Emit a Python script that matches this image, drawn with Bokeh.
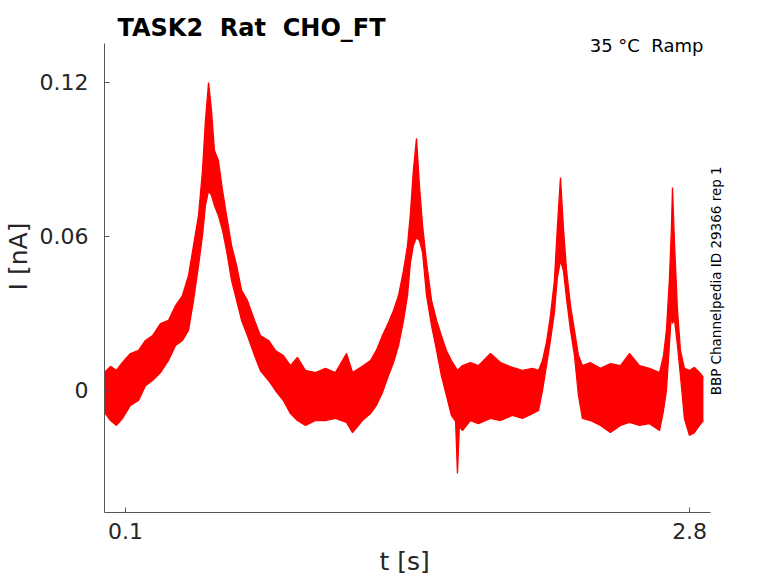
import math
from bokeh.plotting import figure
from bokeh.models import Range1d, FixedTicker, Label, ColumnDataSource
from bokeh.embed import file_html
from bokeh.resources import INLINE

# ---- data (time in s, current envelope in nA) ----
t_s = [0.000, 0.029, 0.057, 0.086, 0.124, 0.163, 0.196, 0.230, 0.268, 0.306,
       0.340, 0.373, 0.402, 0.426, 0.450, 0.469, 0.483, 0.498, 0.512, 0.526,
       0.545, 0.565, 0.584, 0.608, 0.632, 0.656, 0.684, 0.718, 0.746, 0.785,
       0.818, 0.856, 0.890, 0.923, 0.962, 1.010, 1.057, 1.105, 1.158, 1.187,
       1.234, 1.273, 1.301, 1.330, 1.359, 1.383, 1.407, 1.431, 1.450, 1.464,
       1.478, 1.493, 1.507, 1.522, 1.541, 1.565, 1.589, 1.612, 1.636, 1.660,
       1.680, 1.689, 1.698, 1.713, 1.751, 1.789, 1.847, 1.895, 1.952, 2.000,
       2.048, 2.077, 2.096, 2.115, 2.134, 2.153, 2.167, 2.182, 2.196, 2.211,
       2.230, 2.249, 2.268, 2.287, 2.325, 2.373, 2.421, 2.469, 2.512, 2.560,
       2.608, 2.656, 2.675, 2.689, 2.703, 2.713, 2.718, 2.727, 2.742, 2.756,
       2.775, 2.799, 2.823, 2.847, 2.866]
i_upper = [0.0070, 0.0094, 0.0078, 0.0109, 0.0144, 0.0156, 0.0195, 0.0214, 0.0261, 0.0273,
           0.0331, 0.0370, 0.0448, 0.0565, 0.0682, 0.0857, 0.1052, 0.1200, 0.1091, 0.0935,
           0.0896, 0.0779, 0.0682, 0.0565, 0.0487, 0.0390, 0.0351, 0.0273, 0.0214, 0.0195,
           0.0156, 0.0136, 0.0097, 0.0129, 0.0078, 0.0070, 0.0086, 0.0070, 0.0144, 0.0070,
           0.0094, 0.0117, 0.0156, 0.0214, 0.0265, 0.0312, 0.0370, 0.0468, 0.0565, 0.0690,
           0.0857, 0.0982, 0.0799, 0.0643, 0.0499, 0.0351, 0.0273, 0.0214, 0.0156, 0.0117,
           0.0090, 0.0078, 0.0086, 0.0097, 0.0109, 0.0097, 0.0144, 0.0109, 0.0090, 0.0078,
           0.0086, 0.0078, 0.0117, 0.0187, 0.0292, 0.0429, 0.0635, 0.0830, 0.0635, 0.0468,
           0.0331, 0.0234, 0.0136, 0.0097, 0.0109, 0.0086, 0.0105, 0.0097, 0.0144, 0.0097,
           0.0086, 0.0070, 0.0136, 0.0234, 0.0429, 0.0635, 0.0791, 0.0584, 0.0312, 0.0156,
           0.0086, 0.0078, 0.0090, 0.0070, 0.0051]
i_lower = [-0.0086, -0.0117, -0.0136, -0.0109, -0.0058, -0.0039, 0.0019, 0.0039, 0.0070, 0.0117,
           0.0175, 0.0195, 0.0234, 0.0351, 0.0487, 0.0604, 0.0721, 0.0779, 0.0760, 0.0721,
           0.0682, 0.0623, 0.0545, 0.0429, 0.0351, 0.0273, 0.0214, 0.0136, 0.0078, 0.0039,
           0.0000, -0.0039, -0.0090, -0.0117, -0.0136, -0.0117, -0.0117, -0.0109, -0.0124, -0.0164,
           -0.0117, -0.0090, -0.0058, -0.0008, 0.0058, 0.0109, 0.0175, 0.0273, 0.0370, 0.0499,
           0.0565, 0.0596, 0.0584, 0.0538, 0.0370, 0.0253, 0.0156, 0.0058, -0.0019, -0.0097,
           -0.0120, -0.0323, -0.0140, -0.0156, -0.0117, -0.0129, -0.0109, -0.0117, -0.0097, -0.0109,
           -0.0090, -0.0078, 0.0000, 0.0097, 0.0195, 0.0304, 0.0440, 0.0506, 0.0467, 0.0358,
           0.0234, 0.0136, -0.0019, -0.0109, -0.0117, -0.0136, -0.0164, -0.0136, -0.0124, -0.0136,
           -0.0129, -0.0156, -0.0078, 0.0000, 0.0175, 0.0304, 0.0261, 0.0281, 0.0175, 0.0058,
           -0.0109, -0.0175, -0.0164, -0.0136, -0.0117]

x_ticks = [0.1, 2.8]
x_tick_labels = ["0.1", "2.8"]
y_ticks = [0, 0.06, 0.12]
y_tick_labels = ["0", "0.06", "0.12"]
x_axis_span = (0.0, 2.9)        # extent of the drawn axes
y_axis_span = (-0.0475, 0.1352)

title_text = "TASK2 \u00a0Rat \u00a0CHO_FT"
condition_text = "35 °C \u00a0Ramp"
note_text = "BBP Channelpedia ID 29366 rep 1"
x_label = "t [s]\u00a0\u00a0\u00a0"   # trailing spaces centre it under the drawn axis
y_label = "I [nA]"

FONT = "DejaVu Sans"
RED = "#ff0000"
AXIS_GREY = "#555555"
TEXT_DARK = "#262626"

src = ColumnDataSource(dict(t=t_s, up=i_upper, lo=i_lower))

# the frame reaches up to the top of the canvas and a little right of the
# axes, so that the header texts and the vertical note can live inside it
p = figure(frame_width=624, frame_height=512, output_backend="svg", toolbar_location=None,
           x_range=Range1d(0.0, 2.986), y_range=Range1d(-0.04753, 0.15193),
           min_border_left=96, min_border_right=42, min_border_top=0, min_border_bottom=0)
p.title = None

p.varea(x="t", y1="lo", y2="up", source=src, fill_color=RED, fill_alpha=1.0)
p.line(x="t", y="up", source=src, line_color=RED, line_width=1.3)
p.line(x="t", y="lo", source=src, line_color=RED, line_width=1.3)

# axes
p.xaxis.ticker = FixedTicker(ticks=x_ticks)
p.yaxis.ticker = FixedTicker(ticks=y_ticks)
p.xaxis.major_label_overrides = {v: s for v, s in zip(x_ticks, x_tick_labels)}
p.yaxis.major_label_overrides = {v: s for v, s in zip(y_ticks, y_tick_labels)}
p.xaxis.bounds = x_axis_span
p.yaxis.bounds = y_axis_span
p.xaxis.axis_label = x_label
p.yaxis.axis_label = y_label
for ax in (p.xaxis, p.yaxis):
    ax.axis_line_color = AXIS_GREY
    ax.axis_line_width = 1
    ax.major_tick_line_color = AXIS_GREY
    ax.major_tick_in = 5
    ax.major_tick_out = 0
    ax.minor_tick_line_color = None
    ax.major_label_text_font = FONT
    ax.major_label_text_font_size = "22px"
    ax.major_label_text_color = TEXT_DARK
    ax.axis_label_text_font = FONT
    ax.axis_label_text_font_size = "25px"
    ax.axis_label_text_font_style = "normal"
    ax.axis_label_text_color = TEXT_DARK
p.yaxis.major_label_standoff = 16
p.yaxis.axis_label_standoff = 4
p.xaxis.major_label_standoff = 10
p.xaxis.axis_label_standoff = 5

p.xgrid.grid_line_color = None
p.ygrid.grid_line_color = None
p.outline_line_color = None
p.background_fill_color = "white"
p.border_fill_color = "white"

# header texts and side note
p.add_layout(Label(x=0.062, y=0.1414, text=title_text, text_align="left",
                   text_baseline="alphabetic", text_font=FONT, text_font_size="24px",
                   text_font_style="bold", text_color="black"))
p.add_layout(Label(x=2.866, y=0.1344, text=condition_text, text_align="right",
                   text_baseline="alphabetic", text_font=FONT, text_font_size="18px",
                   text_color="black"))
p.add_layout(Label(x=2.928, y=-0.0019, text=note_text, angle=math.pi / 2,
                   text_align="left", text_baseline="middle", text_font=FONT,
                   text_font_size="13.5px", text_color="black"))

open("out.html", "w").write(file_html(p, INLINE))
